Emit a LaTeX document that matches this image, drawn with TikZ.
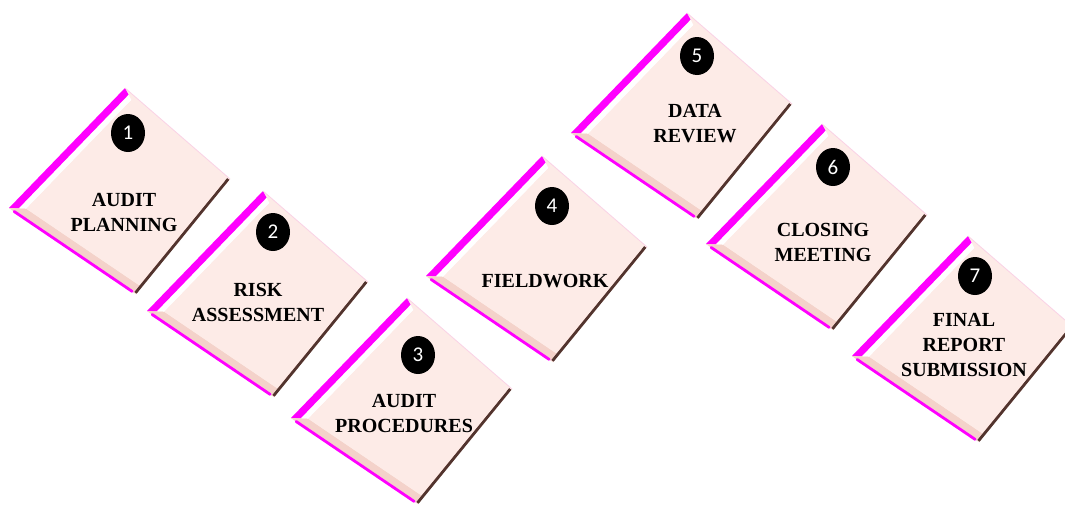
\documentclass[tikz,border=0pt]{standalone}
\usepackage{fontspec}
\setmainfont{Liberation Serif}
\newfontfamily\numfont{Carlito}
\usetikzlibrary{calc,shapes.geometric}
\definecolor{face}{RGB}{253,235,231}
\definecolor{bevel}{RGB}{244,210,202}
\definecolor{bevelr}{RGB}{236,200,192}
\definecolor{mag}{RGB}{255,0,255}
\definecolor{brn}{RGB}{82,52,46}
\definecolor{edgepink}{RGB}{250,210,230}
\tikzset{
 lbl/.style={font=\fontsize{20}{25}\selectfont\bfseries, align=center, text=black, inner sep=0pt},
 num/.style={ellipse, fill=black, text=white, minimum width=34pt, minimum height=38pt, inner sep=0pt, font=\numfont\fontsize{21}{21}\selectfont},
 facefill/.style={fill=face},
 bevelfill/.style={fill=bevel},
 bevelrfill/.style={fill=bevelr},
 magband/.style={fill=mag},
 whiteband/.style={fill=white},
 magline/.style={draw=mag, line width=2.8pt, line cap=round},
 brnline/.style={draw=brn, line width=2.8pt},
 topline/.style={draw=edgepink, line width=0.8pt}
}
\begin{document}
\begin{tikzpicture}[x=1pt,y=-1pt]
\useasboundingbox[fill=white] (0,0) rectangle (1065,504);
\foreach \i/\tx/\ty/\cx/\cy/\lx/\ly/\txt in {
 1/125/88/128/133/124/212/{AUDIT\\PLANNING},
 2/263/191/273/232/258/302/{RISK\\ASSESSMENT},
 3/407/298/418/355/404/413/{AUDIT\\PROCEDURES},
 4/542/156/552/206/545/281/{FIELDWORK},
 5/687/13/697/56/695/124/{DATA\\REVIEW},
 6/822/124/833/167/823/242/{CLOSING\\MEETING},
 7/968/236/975/276/964/345/{FINAL\\REPORT\\SUBMISSION}}
{
 \begin{scope}[shift={(\tx,\ty)}]
  \coordinate (T\i) at (0,0);
  \coordinate (L\i) at (-116,120);
  \coordinate (B\i) at (11,206);
  \coordinate (R\i) at (105,91);
  \coordinate (Ti\i) at (6.4,12.1);
  \coordinate (Li\i) at (-98.7,120.8);
  \coordinate (Bi\i) at (14.2,197.3);
  \coordinate (Ri\i) at (99.6,92.9);
 \end{scope}
 \path[facefill] (T\i) -- (R\i) -- (B\i) -- (L\i) -- cycle;
 \path[whiteband] (L\i) -- (T\i) -- (Ti\i) -- (Li\i) -- cycle;
 \path[magband] (L\i) -- (T\i) -- ($(T\i)!0.55!(Ti\i)$) -- ($(L\i)!0.55!(Li\i)$) -- cycle;
 \path[bevelfill] (L\i) -- (B\i) -- (Bi\i) -- (Li\i) -- cycle;
 \path[bevelrfill] (B\i) -- (R\i) -- (Ri\i) -- (Bi\i) -- cycle;
 \path[magline] ($(L\i)!0.04!(B\i)$) -- ($(L\i)!0.97!(B\i)$);
 \path[brnline] ($(B\i)+(-0.5,-1.2)$) -- ($(R\i)+(-1.8,0)$);
 \path[topline] (T\i) -- (R\i);
 \path[facefill] (Ti\i) -- (Ri\i) -- (Bi\i) -- (Li\i) -- cycle;
 \node[num] (c\i) at (\cx,\cy) {\i};
 \node[lbl] (t\i) at (\lx,\ly) {\txt};
}
\end{tikzpicture}
\end{document}
